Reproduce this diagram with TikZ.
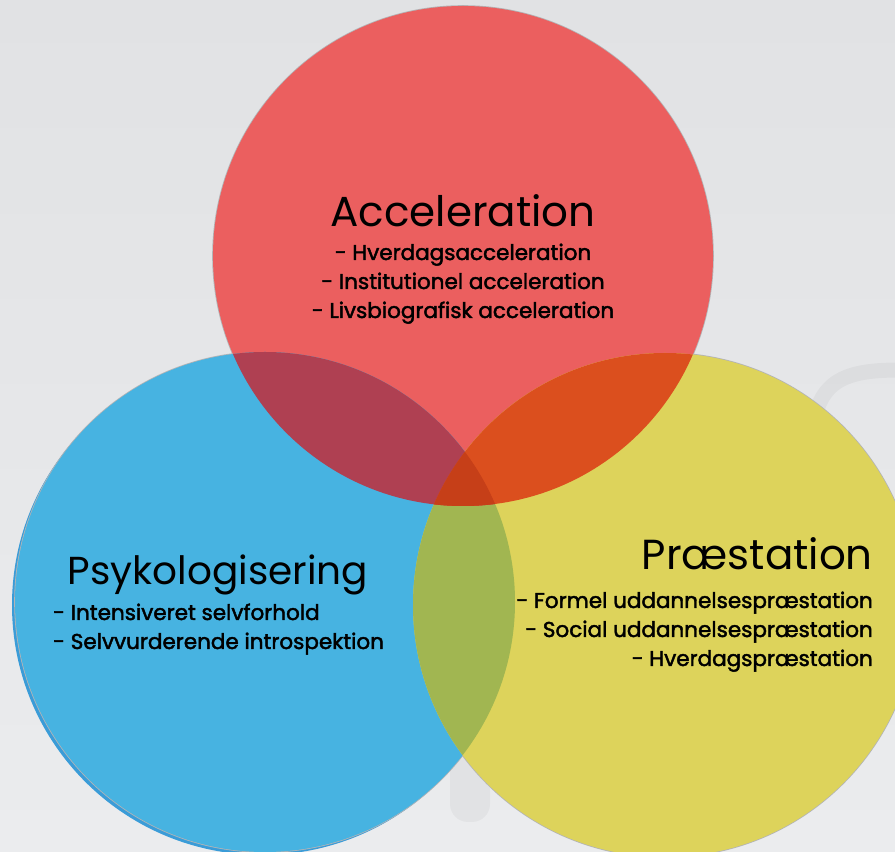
\documentclass[tikz,border=0pt]{standalone}
\usepackage{fontspec}
\setmainfont{Poppins}
\newfontfamily\itemfont[FakeBold=2]{Poppins}

\definecolor{bgtop}{HTML}{E1E2E4}
\definecolor{bgmid}{HTML}{D6D7D9}
\definecolor{bgbot}{HTML}{EBECEE}
\definecolor{rimgray}{HTML}{B3B4B6}
\definecolor{accred}{HTML}{EB5F5F}
\definecolor{psyblue}{HTML}{47B3E1}
\definecolor{psyshade}{HTML}{3A9CD8}
\definecolor{prayellow}{HTML}{DDD35B}
\definecolor{accpsy}{HTML}{AF4052}
\definecolor{accpra}{HTML}{DB4F1E}
\definecolor{psypra}{HTML}{A1B651}
\definecolor{allthree}{HTML}{C63F18}

\begin{document}
\begin{tikzpicture}[x=1pt, y=1pt,
    title/.style={inner sep=0pt, font=\fontsize{42}{50}\selectfont},
    listitem/.style={inner sep=0pt, font=\itemfont\fontsize{21.5}{29}\selectfont},
    ghost/.style={black, opacity=0.035}]
        % Background
        \useasboundingbox (0,0) rectangle (895,852);
        \clip (0,0) rectangle (895,852);
        \shade[top color=bgtop, middle color=bgmid, bottom color=bgbot] (0,0) rectangle (895,852);
        \fill[ghost, rounded corners=18pt] (450,30) rectangle (490,112);
        \draw[ghost, line width=15pt] (812,402) .. controls (812,470) and (840,482) .. (900,482);

        % Circle centres
        \coordinate (acc) at (463,596);
        \coordinate (psy) at (265,250);
        \coordinate (pra) at (665,247);

        % Rims and shadow
        \fill[psyshade] (262,247) circle[radius=250];
        \fill[rimgray] (acc) circle[radius=250.8];
        \fill[rimgray] (psy) circle[radius=250.8];
        \fill[rimgray] (pra) circle[radius=252.8];

        % Circles
        \fill[accred] (acc) circle[radius=250];
        \fill[psyblue] (psy) circle[radius=250];
        \fill[prayellow] (pra) circle[radius=252];

        % Overlaps
        \begin{scope}
            \clip (psy) circle[radius=250];
            \fill[psypra] (pra) circle[radius=252];
        \end{scope}
        \begin{scope}
            \clip (acc) circle[radius=250];
            \fill[accpsy] (psy) circle[radius=250];
            \fill[accpra] (pra) circle[radius=252];
            \clip (psy) circle[radius=250];
            \fill[allthree] (pra) circle[radius=252];
        \end{scope}

        % Acceleration
        \node[title, anchor=base] (acctitle) at (463,625) {Acceleration};
        \foreach \txt [count=\i] in {Hverdagsacceleration, Institutionel acceleration, Livsbiografisk acceleration}
            \node[listitem, anchor=base] (acc\i) at (463,621-29*\i) {- \txt};

        % Psykologisering
        \node[title, anchor=base, font=\fontsize{39}{47}\selectfont] (psytitle) at (218,267) {Psykologisering};
        \foreach \txt [count=\i] in {Intensiveret selvforhold, Selvvurderende introspektion}
            \node[listitem, anchor=base west] (psy\i) at (53,261-29*\i) {- \txt};

        % Praestation
        \node[title, anchor=base east] (pratitle) at (873,282) {Præstation};
        \foreach \txt [count=\i] in {Formel uddannelsespræstation, Social uddannelsespræstation, Hverdagspræstation}
            \node[listitem, anchor=base east] (pra\i) at (873,273-29*\i) {- \txt};
\end{tikzpicture}
\end{document}
